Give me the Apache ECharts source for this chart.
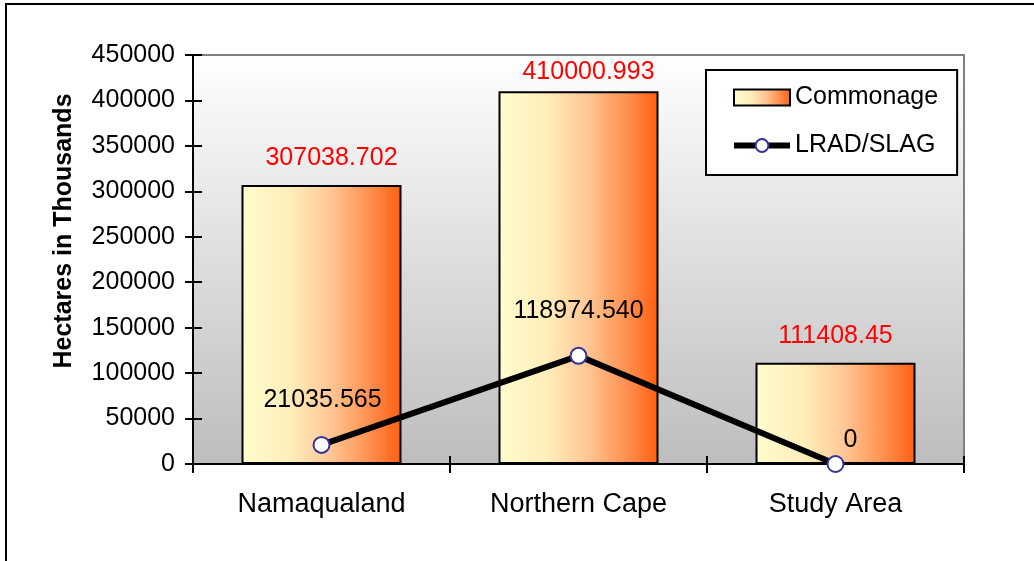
<!DOCTYPE html>
<html>
<head>
<meta charset="utf-8">
<title>Commonage and LRAD/SLAG land</title>
<script src="https://cdn.jsdelivr.net/npm/echarts@6/dist/echarts.min.js"></script>
<style>
  html, body { margin: 0; padding: 0; background: #ffffff; }
  #chart { width: 1034px; height: 561px; }
</style>
</head>
<body>
<div id="chart"></div>
<script>
// Regions on the category axis
const categories = ['Namaqualand', 'Northern Cape', 'Study Area'];

// Commonage land per region (hectares in thousands)
const commonage = [307038.702, 410000.993, 111408.45];
const commonageDecimals = [3, 3, 2];

// LRAD/SLAG land per region (hectares in thousands)
const lradSlag = [21035.565, 118974.54, 0];
const lradSlagDecimals = [3, 3, 0];

// Value axis range and step
const yMin = 0;
const yMax = 450000;
const yStep = 50000;

const FONT = "'Liberation Sans', Arial, Helvetica, sans-serif";

const barGradient = {
  type: 'linear', x: 0, y: 0, x2: 1, y2: 0,
  colorStops: [
    { offset: 0, color: '#fffdcc' },
    { offset: 0.3, color: '#ffeebb' },
    { offset: 0.55, color: '#ffc896' },
    { offset: 0.8, color: '#ff9050' },
    { offset: 1, color: '#ff5f10' }
  ]
};

const plotGradient = {
  type: 'linear', x: 0, y: 0, x2: 0, y2: 1,
  colorStops: [
    { offset: 0, color: '#ffffff' },
    { offset: 1, color: '#bdbdbd' }
  ]
};

// Per-bar label placement (the tallest label sits closer to its bar)
const barLabelDistance = [14, 7, 14];
const barLabelOffset = [[10, 0], [10, 0], [0, 0]];
const lineLabelDistance = [23, 23.5, 2];
const lineLabelOffset = [[1, 0], [0, 0], [15, 0]];

const chart = echarts.init(document.getElementById('chart'), null, { renderer: 'canvas' });

const xAxisBase = {
  type: 'category',
  data: categories,
  position: 'bottom',
  axisLine: { show: true, lineStyle: { color: '#000', width: 2 } },
  splitLine: { show: false }
};

const yAxisBase = {
  type: 'value',
  min: yMin,
  max: yMax,
  interval: yStep,
  position: 'left',
  axisLine: { show: true, lineStyle: { color: '#000', width: 2 } },
  splitLine: { show: false }
};

chart.setOption({
  animation: false,
  textStyle: { fontFamily: FONT },
  grid: {
    left: 193, top: 55, right: 70, bottom: 97,
    show: true,
    backgroundColor: plotGradient,
    borderColor: '#808080',
    borderWidth: 2
  },
  graphic: [
    {
      type: 'rect',
      shape: { x: 6, y: 4, width: 1200, height: 700 },
      style: { fill: 'none', stroke: '#000', lineWidth: 2 },
      silent: true,
      z: 100
    },
    {
      type: 'text',
      x: 64,
      y: 231,
      rotation: Math.PI / 2,
      style: {
        text: 'Hectares in Thousands',
        font: 'bold 25px ' + FONT,
        fill: '#000',
        align: 'center',
        verticalAlign: 'middle'
      },
      silent: true
    }
  ],
  legend: {
    left: 706,
    top: 70,
    orient: 'vertical',
    padding: [15, 19, 17, 25],
    itemGap: 23,
    itemWidth: 56,
    itemHeight: 16,
    backgroundColor: '#ffffff',
    borderColor: '#000',
    borderWidth: 2,
    borderRadius: 0,
    textStyle: { fontSize: 25, color: '#000', fontFamily: FONT },
    data: [
      { name: 'Commonage', icon: 'rect', itemStyle: { borderWidth: 2, borderColor: '#000' } },
      { name: 'LRAD/SLAG', lineStyle: { width: 6, color: '#000' } }
    ]
  },
  xAxis: [
    Object.assign({}, xAxisBase, {
      axisTick: { show: true, inside: false, length: 9, lineStyle: { color: '#000', width: 2 } },
      axisLabel: { fontSize: 27, color: '#000', margin: 27, fontFamily: FONT }
    }),
    Object.assign({}, xAxisBase, {
      axisTick: { show: true, inside: true, length: 8, lineStyle: { color: '#000', width: 2 } },
      axisLabel: { show: false }
    })
  ],
  yAxis: [
    Object.assign({}, yAxisBase, {
      axisTick: { show: true, inside: false, length: 8, lineStyle: { color: '#000', width: 2 } },
      axisLabel: {
        fontSize: 25, color: '#000', margin: 18, fontFamily: FONT,
        formatter: (v) => String(v)
      }
    }),
    Object.assign({}, yAxisBase, {
      axisTick: { show: true, inside: true, length: 9, lineStyle: { color: '#000', width: 2 } },
      axisLabel: { show: false }
    })
  ],
  series: [
    {
      name: 'Commonage',
      type: 'bar',
      xAxisIndex: 0,
      yAxisIndex: 0,
      barWidth: 160,
      itemStyle: { color: barGradient, borderColor: '#000', borderWidth: 2 },
      label: {
        show: true,
        position: 'top',
        color: '#ff0000',
        fontSize: 25,
        fontFamily: FONT
      },
      data: commonage.map((v, i) => ({
        value: v,
        label: {
          distance: barLabelDistance[i],
          offset: barLabelOffset[i],
          formatter: () => v.toFixed(commonageDecimals[i])
        }
      }))
    },
    {
      name: 'LRAD/SLAG',
      type: 'line',
      xAxisIndex: 0,
      yAxisIndex: 0,
      symbol: 'circle',
      symbolSize: 16,
      showAllSymbol: true,
      lineStyle: { color: '#000', width: 6 },
      itemStyle: { color: '#ffffff', borderColor: '#333399', borderWidth: 2 },
      label: {
        show: true,
        position: 'top',
        color: '#000',
        fontSize: 25,
        fontFamily: FONT
      },
      z: 5,
      data: lradSlag.map((v, i) => ({
        value: v,
        label: {
          distance: lineLabelDistance[i],
          offset: lineLabelOffset[i],
          formatter: () => v.toFixed(lradSlagDecimals[i])
        }
      }))
    }
  ]
});
</script>
</body>
</html>
